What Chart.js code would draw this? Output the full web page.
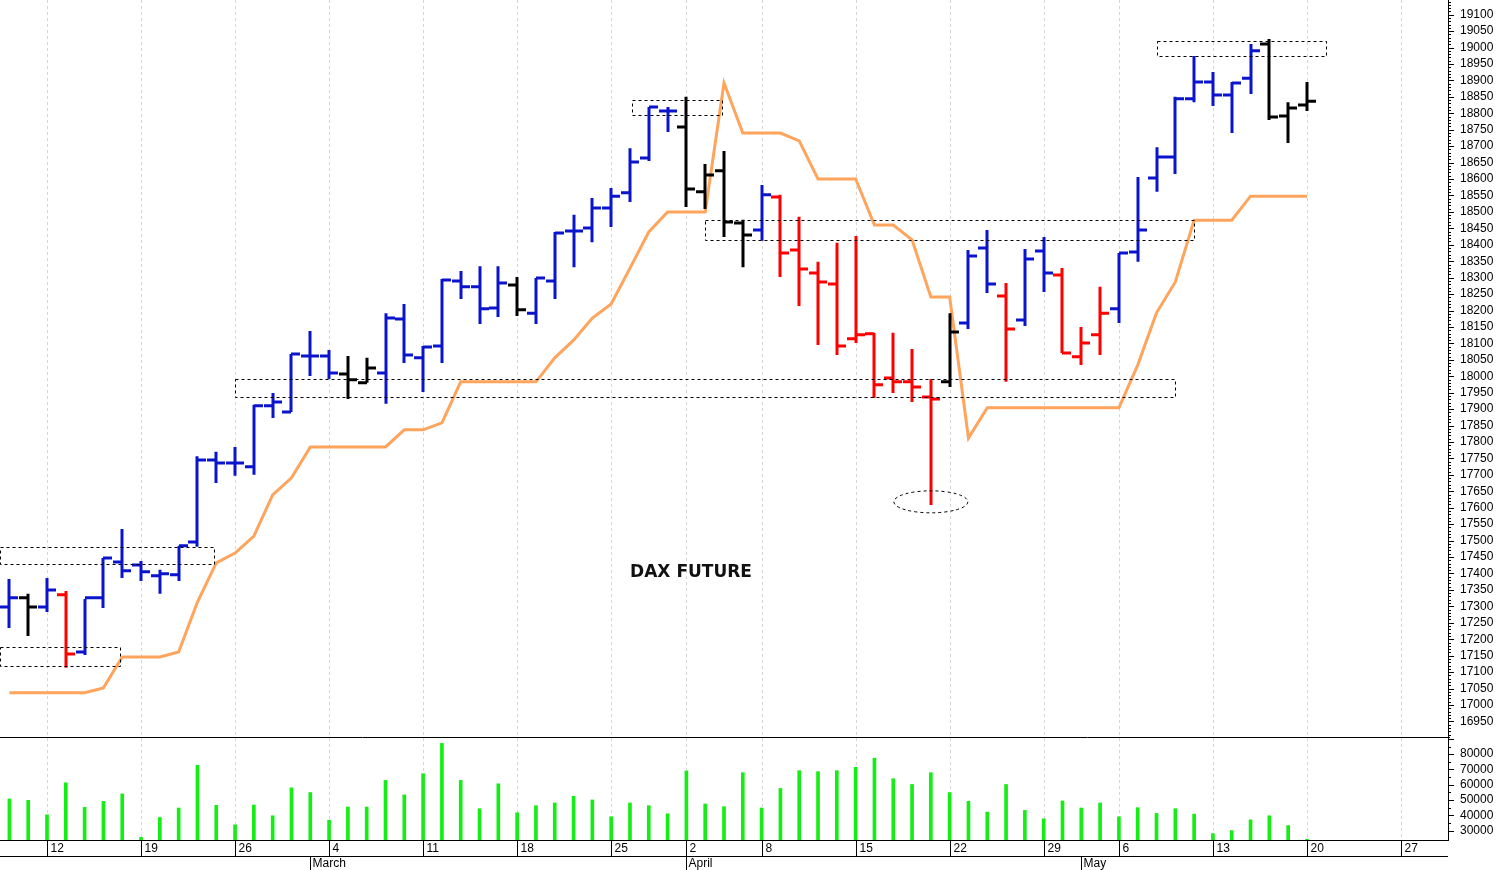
<!DOCTYPE html>
<html>
<head>
<meta charset="utf-8">
<script src="https://cdn.jsdelivr.net/npm/chart.js@4.4.1/dist/chart.umd.min.js"></script>
<style>
  body { margin: 0; background: #fff; }
  #wrap { width: 1497px; height: 870px; }
</style>
</head>
<body>
<div id="wrap"><canvas id="daxChart"></canvas></div>
<script>
// Trading days Feb 8 .. May 20 (index = position)
const dates = ["Feb 8","Feb 9","Feb 12","Feb 13","Feb 14","Feb 15","Feb 16","Feb 19","Feb 20","Feb 21","Feb 22","Feb 23","Feb 26","Feb 27","Feb 28","Feb 29",
  "Mar 1","Mar 4","Mar 5","Mar 6","Mar 7","Mar 8","Mar 11","Mar 12","Mar 13","Mar 14","Mar 15","Mar 18","Mar 19","Mar 20","Mar 21","Mar 22","Mar 25","Mar 26","Mar 27","Mar 28",
  "Apr 2","Apr 3","Apr 4","Apr 5","Apr 8","Apr 9","Apr 10","Apr 11","Apr 12","Apr 15","Apr 16","Apr 17","Apr 18","Apr 19","Apr 22","Apr 23","Apr 24","Apr 25","Apr 26","Apr 29","Apr 30",
  "May 2","May 3","May 6","May 7","May 8","May 9","May 10","May 13","May 14","May 15","May 16","May 17","May 20"];

const opens  = [17298,17326,17298,17335,17161,17326,17435,17426,17393,17396,17496,17745,17736,17725,17910,17891,18062,18062,18007,17980,
  18010,18174,18056,18092,18290,18272,18208,18278,18192,18290,18442,18451,18512,18558,18664,18807,18758,18561,18625,18466,
  18445,18545,18384,18314,18281,18114,18129,17995,17983,17937,17983,18162,18390,18244,18171,18381,18308,18059,18126,18205,
  18378,18603,18667,18844,18895,18856,18907,19011,18792,18825];
const highs  = [17383,17338,17386,17347,17322,17447,17535,17438,17411,17484,17757,17770,17785,17913,17949,18068,18138,18080,18062,18056,
  18192,18220,18092,18296,18320,18335,18335,18302,18299,18439,18491,18542,18573,18694,18819,18819,18850,18646,18685,18476,
  18582,18552,18485,18348,18406,18427,18132,18132,18083,17992,18192,18384,18445,18284,18387,18424,18329,18150,18272,18375,
  18606,18697,18850,18974,18926,18895,19011,19026,18834,18895];
const lows   = [17234,17210,17283,17113,17152,17295,17386,17377,17338,17377,17481,17675,17697,17700,17873,17891,18001,17992,17931,17980,
  17916,18040,17952,18040,18235,18159,18180,18183,18159,18235,18332,18408,18454,18530,18655,18743,18515,18509,18424,18332,
  18412,18302,18214,18095,18065,18101,17934,17949,17922,17608,17967,18144,18253,17983,18153,18256,18071,18034,18065,18162,
  18348,18561,18615,18834,18822,18740,18859,18780,18710,18807];
const closes = [17326,17298,17350,17155,17326,17447,17408,17405,17399,17484,17745,17736,17736,17910,17922,18068,18062,18010,17989,18025,
  18177,18065,18089,18293,18272,18205,18284,18202,18299,18436,18442,18512,18548,18652,18819,18807,18570,18612,18469,18430,
  18552,18375,18326,18287,18092,18126,17974,17983,17967,17931,18135,18366,18281,18144,18357,18314,18071,18101,18192,18375,
  18445,18667,18844,18895,18856,18892,18990,18789,18816,18837];
// u = up (blue), d = down (red), n = neutral (black)
const trend = ["u","n","u","d","u","u","u","u","u","u","u","u","u","u","u","u","u","u","n","n",
  "u","u","u","u","u","u","u","n","u","u","u","u","u","u","u","u","n","n","n","n",
  "u","d","d","d","d","d","d","d","d","d","n","u","u","d","u","u","d","d","d","u",
  "u","u","u","u","u","u","u","n","n","n"];

const stopLine = [17037,17037,17037,17037,17037,17052,17146,17146,17146,17161,17313,17432,17462,17514,17639,17691,17785,17785,17785,17785,
  17785,17837,17837,17858,17983,17983,17983,17983,17983,18056,18110,18177,18220,18329,18439,18500,18500,18500,18892,18740,
  18740,18740,18716,18600,18600,18600,18460,18460,18415,18241,18241,17812,17904,17904,17904,17904,17904,17904,17904,17904,
  18034,18193,18287,18475,18475,18475,18548,18548,18548,18548];

const volumes = [50710,49830,40360,61280,45210,49170,54010,25610,38600,44770,72730,46530,33760,46750,39700,57980,54900,36840,45430,45430,
  62820,53350,67230,87040,62820,44330,60620,41680,46310,48070,52470,50050,39040,48070,46310,41020,68990,47410,45650,67890,
  44770,57540,69210,68550,69210,71410,77360,63920,60180,67890,54900,49170,42120,60180,43220,37720,49390,44770,48070,39040,
  44990,41240,44330,40800,28030,30010,37060,39700,33320,24290];

const weekTicks  = [2,7,12,17,22,27,32,36,40,45,50,55,59,64,69,74];
const weekLabels = ["12","19","26","4","11","18","25","2","8","15","22","29","6","13","20","27"];
const monthStarts = [16,36,57];
const monthLabels = ["March","April","May"];

const priceTicks = [];
for (let p = 16950; p <= 19100; p += 50) priceTicks.push(p);
const volTicks = [30000,40000,50000,60000,70000,80000];

// dashed boxes: [x from, x to, price top, price bottom] in index / price units
const boxes = [
  [-0.5,10.9,17481,17429],
  [-0.5,5.9,17177,17119],
  [12.0,62.0,17992,17937],
  [33.1,37.9,18840,18795],
  [37.0,63.0,18475,18415],
  [61.0,70.0,19020,18975]
];
const ringAt = [49.0,17618];

const colors = { u: "#0a14cc", d: "#ff0000", n: "#000000" };

const idx = dates.map((d, i) => i);

const ohlcPlugin = {
  id: "ohlc",
  // weekly dotted grid
  beforeDatasetsDraw(chart) {
    const ctx = chart.ctx;
    const x = chart.scales.x;
    const area = chart.chartArea;
    ctx.save();
    ctx.strokeStyle = "#d6d6d6";
    ctx.lineWidth = 1;
    ctx.setLineDash([3, 3]);
    ctx.beginPath();
    weekTicks.forEach(t => {
      const px = Math.round(x.getPixelForValue(t)) + 0.5;
      ctx.moveTo(px, area.top);
      ctx.lineTo(px, area.bottom);
    });
    ctx.stroke();
    ctx.restore();
  },
  // OHLC bars and annotations
  afterDatasetsDraw(chart) {
    const ctx = chart.ctx;
    const x = chart.scales.x;
    const y = chart.scales.y;
    ctx.save();
    ctx.lineWidth = 3;
    ctx.lineCap = "butt";
    for (let i = 0; i < opens.length; i++) {
      const px = Math.round(x.getPixelForValue(i));
      ctx.strokeStyle = colors[trend[i]];
      ctx.beginPath();
      ctx.moveTo(px, y.getPixelForValue(highs[i]));
      ctx.lineTo(px, y.getPixelForValue(lows[i]));
      ctx.moveTo(px - 9, y.getPixelForValue(opens[i]));
      ctx.lineTo(px, y.getPixelForValue(opens[i]));
      ctx.moveTo(px, y.getPixelForValue(closes[i]));
      ctx.lineTo(px + 9, y.getPixelForValue(closes[i]));
      ctx.stroke();
    }
    ctx.lineWidth = 1;
    ctx.strokeStyle = "#000";
    ctx.setLineDash([3, 3]);
    boxes.forEach(b => {
      const x1 = x.getPixelForValue(b[0]), x2 = x.getPixelForValue(b[1]);
      const y1 = y.getPixelForValue(b[2]), y2 = y.getPixelForValue(b[3]);
      ctx.strokeRect(Math.round(x1) + 0.5, Math.round(y1) + 0.5, Math.round(x2 - x1), Math.round(y2 - y1));
    });
    const cx = x.getPixelForValue(ringAt[0]), cy = y.getPixelForValue(ringAt[1]);
    ctx.beginPath();
    ctx.ellipse(cx, cy, 37, 11, 0, 0, Math.PI * 2);
    ctx.stroke();
    ctx.setLineDash([]);

    ctx.fillStyle = "#111";
    ctx.font = "bold 17px 'DejaVu Sans'";
    ctx.textAlign = "center";
    ctx.textBaseline = "middle";
    ctx.fillText("DAX FUTURE", 691, 573);
    ctx.restore();
  },
  afterDraw(chart) {
    const ctx = chart.ctx;
    const x = chart.scales.x;
    const y = chart.scales.y;
    const yv = chart.scales.yv;
    const right = chart.chartArea.right;
    const bottom = chart.chartArea.bottom;
    ctx.save();
    ctx.strokeStyle = "#000";
    ctx.lineWidth = 1;
    ctx.beginPath();
    ctx.moveTo(0, Math.round(y.bottom) + 0.5);
    ctx.lineTo(right + 2, Math.round(y.bottom) + 0.5);
    ctx.moveTo(0, bottom + 0.5);
    ctx.lineTo(right, bottom + 0.5);
    ctx.moveTo(0, bottom + 16.5);
    ctx.lineTo(right, bottom + 16.5);
    ctx.stroke();
    // minor / major ticks on the value axes
    ctx.beginPath();
    for (let p = 16900; p <= 19140; p += 10) {
      const py = Math.round(y.getPixelForValue(p)) + 0.5;
      if (py < y.top || py > y.bottom) continue;
      const len = p % 50 === 0 ? 6 : 3;
      ctx.moveTo(right, py);
      ctx.lineTo(right + len, py);
    }
    for (let v = 30000; v <= 90000; v += 5000) {
      const py = Math.round(yv.getPixelForValue(v)) + 0.5;
      if (py < yv.top || py > yv.bottom) continue;
      const len = v % 10000 === 0 ? 6 : 3;
      ctx.moveTo(right, py);
      ctx.lineTo(right + len, py);
    }
    ctx.stroke();
    // week and month labels
    ctx.fillStyle = "#000";
    ctx.font = "12px 'Liberation Sans'";
    ctx.textBaseline = "middle";
    ctx.textAlign = "left";
    ctx.beginPath();
    weekTicks.forEach((t, k) => {
      const px = Math.round(x.getPixelForValue(t)) + 0.5;
      ctx.moveTo(px, bottom);
      ctx.lineTo(px, bottom + 16);
      ctx.fillText(weekLabels[k], px + 3, bottom + 9);
    });
    monthStarts.forEach((t, k) => {
      const px = Math.round(x.getPixelForValue(t)) + 0.5;
      ctx.moveTo(px, bottom + 16);
      ctx.lineTo(px, bottom + 30);
      ctx.fillText(monthLabels[k], px + 2, bottom + 24);
    });
    ctx.stroke();
    ctx.restore();
  }
};

const yTickOpts = {
  color: "#000",
  font: { family: "Liberation Sans", size: 12 },
  padding: 4,
  autoSkip: false,
  callback: v => String(v)
};

new Chart(document.getElementById("daxChart"), {
  data: {
    datasets: [
      {
        type: "line",
        data: idx.map(i => ({ x: i, y: stopLine[i] })),
        borderColor: "#ffa45c",
        borderWidth: 3,
        pointRadius: 0,
        tension: 0,
        yAxisID: "y"
      },
      {
        type: "bar",
        data: idx.map(i => ({ x: i, y: volumes[i] })),
        backgroundColor: "#14ee14",
        barThickness: 3,
        yAxisID: "yv"
      }
    ]
  },
  options: {
    responsive: true,
    maintainAspectRatio: false,
    devicePixelRatio: 1,
    animation: false,
    layout: { padding: 0 },
    plugins: { legend: { display: false }, tooltip: { enabled: false } },
    scales: {
      x: {
        type: "linear",
        offset: false,
        min: -0.5,
        max: 76.5,
        afterFit: s => { s.height = 30; s.paddingLeft = 0; s.paddingRight = 0; },
        ticks: { display: false },
        border: { display: false },
        grid: { display: false }
      },
      y: {
        position: "right",
        stack: "panes",
        stackWeight: 737,
        min: 16902.5,
        max: 19144.7,
        afterBuildTicks: s => { s.ticks = priceTicks.map(v => ({ value: v })); },
        afterFit: s => { s.width = 49; s.paddingTop = 0; s.paddingBottom = 0; },
        ticks: yTickOpts,
        grid: { display: false },
        border: { display: true, color: "#000" }
      },
      yv: {
        position: "right",
        stack: "panes",
        stackWeight: 103,
        min: 23860,
        max: 91230,
        afterBuildTicks: s => { s.ticks = volTicks.map(v => ({ value: v })); },
        afterFit: s => { s.width = 49; s.paddingTop = 0; s.paddingBottom = 0; },
        ticks: yTickOpts,
        grid: { display: false },
        border: { display: true, color: "#000" }
      }
    }
  },
  plugins: [ohlcPlugin]
});
</script>
</body>
</html>
